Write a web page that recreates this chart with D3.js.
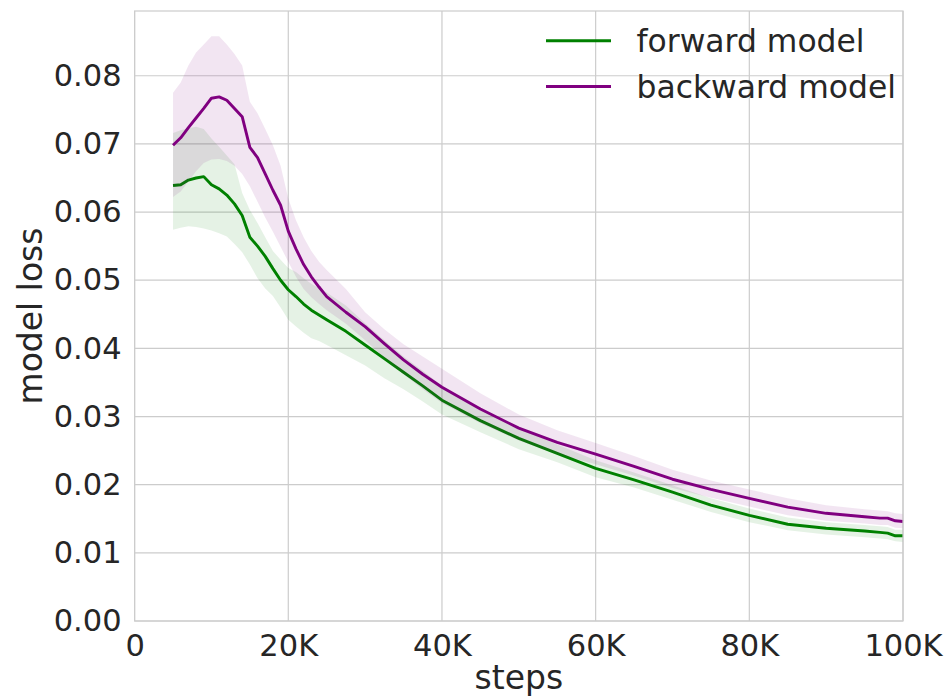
<!doctype html>
<html lang="en">
<head>
<meta charset="utf-8">
<title>model loss</title>
<style>
  body { margin: 0; background: #fff; }
  svg text { font-family: "DejaVu Sans", sans-serif; fill: #262626; }
</style>
</head>
<body>
<svg width="949" height="700"></svg>
<script src="https://cdn.jsdelivr.net/npm/d3@7/dist/d3.min.js"></script>
<script>

var steps = [5000, 6000, 7000, 8000, 9000, 10000, 11000, 12000, 13000, 14000, 15000,
  16000, 17000, 18000, 19000, 20000, 21000, 22000, 23000, 24000, 25000, 27500, 30000,
  32500, 35000, 37500, 40000, 45000, 50000, 55000, 60000, 65000, 70000, 75000, 80000,
  85000, 90000, 95000, 97000, 98000, 99000, 100000];

var forwardMean = [0.0639, 0.0640, 0.0647, 0.0650, 0.0652, 0.0640, 0.0634, 0.0625, 0.0612, 0.0595, 0.0563,
  0.0550, 0.0535, 0.0517, 0.0500, 0.0486, 0.0476, 0.0465, 0.0456, 0.0449, 0.0442, 0.0425, 0.0405,
  0.0385, 0.0365, 0.0345, 0.0324, 0.0294, 0.0268, 0.0246, 0.0224, 0.0207, 0.0189, 0.0170, 0.0155,
  0.0142, 0.0136, 0.0132, 0.0130, 0.0129, 0.0125, 0.0125];
var forwardLow = [0.0574, 0.0577, 0.0579, 0.0578, 0.0576, 0.0573, 0.0569, 0.0564, 0.0553, 0.0541, 0.0523,
  0.0503, 0.0488, 0.0477, 0.0460, 0.0442, 0.0432, 0.0423, 0.0415, 0.0411, 0.0405, 0.0390, 0.0375,
  0.0356, 0.0340, 0.0322, 0.0303, 0.0277, 0.0252, 0.0233, 0.0211, 0.0196, 0.0178, 0.0160, 0.0145,
  0.0133, 0.0127, 0.0123, 0.0121, 0.0120, 0.0117, 0.0116];
var forwardHigh = [0.0716, 0.0720, 0.0723, 0.0725, 0.0722, 0.0708, 0.0696, 0.0683, 0.0670, 0.0628, 0.0603,
  0.0584, 0.0563, 0.0543, 0.0530, 0.0518, 0.0512, 0.0503, 0.0495, 0.0488, 0.0482, 0.0463, 0.0437,
  0.0412, 0.0388, 0.0367, 0.0345, 0.0311, 0.0283, 0.0259, 0.0236, 0.0218, 0.0199, 0.0180, 0.0165,
  0.0152, 0.0145, 0.0141, 0.0139, 0.0138, 0.0134, 0.0134];

var backwardMean = [0.0698, 0.0709, 0.0724, 0.0738, 0.0752, 0.0767, 0.0769, 0.0764, 0.0752, 0.0740, 0.0695,
  0.0680, 0.0656, 0.0632, 0.0610, 0.0572, 0.0546, 0.0523, 0.0505, 0.0490, 0.0476, 0.0453, 0.0432,
  0.0407, 0.0383, 0.0362, 0.0343, 0.0311, 0.0283, 0.0262, 0.0245, 0.0227, 0.0208, 0.0193, 0.0180,
  0.0167, 0.0158, 0.0153, 0.0151, 0.0151, 0.0147, 0.0146];
var backwardLow = [0.0622, 0.0630, 0.0645, 0.0660, 0.0672, 0.0677, 0.0678, 0.0675, 0.0668, 0.0656, 0.0638,
  0.0615, 0.0592, 0.0571, 0.0549, 0.0527, 0.0505, 0.0487, 0.0475, 0.0465, 0.0456, 0.0436, 0.0412,
  0.0386, 0.0362, 0.0340, 0.0320, 0.0290, 0.0265, 0.0245, 0.0230, 0.0213, 0.0195, 0.0181, 0.0168,
  0.0155, 0.0147, 0.0143, 0.0141, 0.0141, 0.0137, 0.0136];
var backwardHigh = [0.0775, 0.0790, 0.0815, 0.0834, 0.0846, 0.0858, 0.0858, 0.0846, 0.0832, 0.0815, 0.0762,
  0.0745, 0.0722, 0.0698, 0.0668, 0.0620, 0.0588, 0.0563, 0.0543, 0.0527, 0.0515, 0.0487, 0.0453,
  0.0428, 0.0406, 0.0388, 0.0370, 0.0334, 0.0303, 0.0280, 0.0261, 0.0242, 0.0222, 0.0206, 0.0193,
  0.0180, 0.0170, 0.0164, 0.0162, 0.0161, 0.0158, 0.0157];

var xTicks = [0, 20000, 40000, 60000, 80000, 100000];
var yTicks = [0, 0.01, 0.02, 0.03, 0.04, 0.05, 0.06, 0.07, 0.08];
var seriesNames = ["forward model", "backward model"];
var seriesColors = ["green", "purple"];

var svg = d3.select("svg"),
    margin = {top: 11, right: 46, bottom: 79, left: 134.6},
    width = 949 - margin.left - margin.right,
    height = 700 - margin.top - margin.bottom,
    g = svg.append("g").attr("transform", "translate(" + margin.left + "," + margin.top + ")");

var x = d3.scaleLinear().domain([0, 100000]).range([0, width]);
var y = d3.scaleLinear().domain([0, 0.0895]).range([height, 0]);

// grid
g.selectAll(".gx").data(xTicks).enter().append("line")
    .attr("x1", function(d) { return x(d); }).attr("x2", function(d) { return x(d); })
    .attr("y1", 0).attr("y2", height)
    .attr("stroke", "#cccccc").attr("stroke-width", 1.2);
g.selectAll(".gy").data(yTicks).enter().append("line")
    .attr("y1", function(d) { return y(d); }).attr("y2", function(d) { return y(d); })
    .attr("x1", 0).attr("x2", width)
    .attr("stroke", "#cccccc").attr("stroke-width", 1.2);

var series = [
  {name: seriesNames[0], color: seriesColors[0], mean: forwardMean, low: forwardLow, high: forwardHigh},
  {name: seriesNames[1], color: seriesColors[1], mean: backwardMean, low: backwardLow, high: backwardHigh}
];

var area = d3.area()
    .x(function(d) { return x(d.s); })
    .y0(function(d) { return y(d.lo); })
    .y1(function(d) { return y(d.hi); });
var line = d3.line()
    .x(function(d) { return x(d.s); })
    .y(function(d) { return y(d.m); });

series.forEach(function(sr) {
  var pts = steps.map(function(s, i) { return {s: s, m: sr.mean[i], lo: sr.low[i], hi: sr.high[i]}; });
  g.append("path").datum(pts)
      .attr("d", area)
      .attr("fill", sr.color).attr("fill-opacity", 0.1);
  g.append("path").datum(pts)
      .attr("d", line)
      .attr("fill", "none").attr("stroke", sr.color).attr("stroke-width", 2.9)
      .attr("stroke-linejoin", "round").attr("stroke-linecap", "butt");
});

// frame
g.append("rect").attr("width", width).attr("height", height)
    .attr("fill", "none").attr("stroke", "#cccccc").attr("stroke-width", 1.2);

// axes
var xAxis = d3.axisBottom(x).tickValues(xTicks).tickSize(0).tickPadding(13)
    .tickFormat(function(d) { return d === 0 ? "0" : (d / 1000) + "K"; });
var yAxis = d3.axisLeft(y).tickValues(yTicks).tickSize(0).tickPadding(13)
    .tickFormat(d3.format(".2f"));

var gx = g.append("g").attr("transform", "translate(0," + height + ")").call(xAxis);
var gy = g.append("g").call(yAxis);
[gx, gy].forEach(function(a) {
  a.select(".domain").remove();
  a.selectAll("text").style("font-size", "30.5px").style("font-family", "DejaVu Sans").attr("fill", "#262626");
});

svg.append("text")
    .attr("x", margin.left + width / 2).attr("y", 689)
    .attr("text-anchor", "middle").style("font-size", "33px")
    .text("steps");
svg.append("text")
    .attr("transform", "translate(42," + (margin.top + height / 2) + ") rotate(-90)")
    .attr("text-anchor", "middle").style("font-size", "33px")
    .text("model loss");

// legend
var legend = svg.append("g");
series.forEach(function(sr, i) {
  var ly = 40.7 + i * 45.8;
  legend.append("line")
      .attr("x1", 546).attr("x2", 611).attr("y1", ly).attr("y2", ly)
      .attr("stroke", sr.color).attr("stroke-width", 2.9);
  legend.append("text")
      .attr("x", 636.5).attr("y", ly + 11.5)
      .style("font-size", "31.4px")
      .text(sr.name);
});

</script>
</body>
</html>
